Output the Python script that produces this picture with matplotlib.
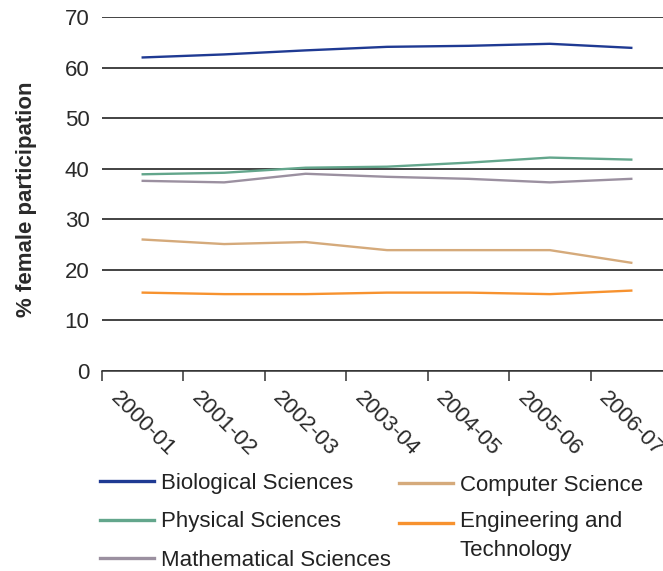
import numpy as np
import matplotlib.pyplot as plt
from matplotlib.legend_handler import HandlerLine2D
from matplotlib.lines import Line2D
from matplotlib.transforms import ScaledTranslation

plt.rcParams['font.family'] = ['Liberation Sans', 'DejaVu Sans']

years = ['2000-01', '2001-02', '2002-03', '2003-04', '2004-05', '2005-06', '2006-07']
biological = [62.0, 62.6, 63.4, 64.1, 64.3, 64.7, 63.9]
physical = [38.9, 39.2, 40.2, 40.4, 41.2, 42.2, 41.8]
mathematical = [37.6, 37.3, 39.0, 38.4, 38.0, 37.3, 38.0]
computer = [26.0, 25.1, 25.5, 23.9, 23.9, 23.9, 21.4]
engineering = [15.5, 15.2, 15.2, 15.5, 15.5, 15.2, 15.9]

col_bio = '#1f3a93'
col_phy = '#63a68c'
col_mat = '#9b90a0'
col_com = '#d5aa7b'
col_eng = '#f7922f'


class UpperLine(HandlerLine2D):
    # put the handle next to the first line of a two-line label
    def create_artists(self, legend, orig_handle, xdescent, ydescent,
                       width, height, fontsize, trans):
        arts = super().create_artists(legend, orig_handle, xdescent, ydescent,
                                      width, height, fontsize, trans)
        for a in arts:
            a.set_ydata(np.asarray(a.get_ydata()) + 0.62 * fontsize)
        return arts


fig = plt.figure(figsize=(6.63, 5.71), dpi=100)
ax = fig.add_axes([102 / 663, 1 - 371 / 571, 570 / 663, 354 / 571])

x = np.arange(len(years))
ax.plot(x, biological, color=col_bio, lw=1.7)
ax.plot(x, physical, color=col_phy, lw=1.7)
ax.plot(x, mathematical, color=col_mat, lw=1.7)
ax.plot(x, computer, color=col_com, lw=1.7)
ax.plot(x, engineering, color=col_eng, lw=1.7)

ax.set_xlim(-0.5, 6.5)
ax.set_ylim(0, 70)
ax.set_yticks(range(0, 71, 10))
ax.yaxis.grid(True, color='#222222', lw=1.2)
ax.set_axisbelow(True)
for s in ['top', 'right', 'left']:
    ax.spines[s].set_visible(False)
ax.spines['bottom'].set_color('#333333')
ax.spines['bottom'].set_linewidth(1.1)

ax.tick_params(axis='y', length=0, pad=9, labelsize=16, labelcolor='#2a2a2a')
ax.set_xticks(x)
ax.set_xticks(np.arange(-0.5, 7, 1), minor=True)
ax.tick_params(axis='x', which='major', length=0, pad=12, labelsize=16, labelcolor='#2a2a2a')
ax.tick_params(axis='x', which='minor', length=7, width=1.1, color='#333333', direction='out')
ax.set_xticklabels(years, rotation=-45, ha='left', va='top', rotation_mode='anchor')
offset = ScaledTranslation(-0.22, 0, fig.dpi_scale_trans)
for lab in ax.get_xticklabels():
    lab.set_transform(lab.get_transform() + offset)

fig.text(27 / 663, 1 - 199 / 571, '% female participation', rotation=90,
         fontsize=16, fontweight='bold', color='#2a2a2a', ha='center', va='center')

h_bio = Line2D([], [], color=col_bio, lw=2.4)
h_phy = Line2D([], [], color=col_phy, lw=2.4)
h_mat = Line2D([], [], color=col_mat, lw=2.4)
h_com = Line2D([], [], color=col_com, lw=2.4)
h_eng = Line2D([], [], color=col_eng, lw=2.4)

leg_kw = dict(loc='upper left', frameon=False, fontsize=16, borderpad=0,
              borderaxespad=0, handlelength=2.45, handletextpad=0.28,
              labelspacing=0.78, labelcolor='#222222')
fig.legend([h_bio, h_phy, h_mat],
           ['Biological Sciences', 'Physical Sciences', 'Mathematical Sciences'],
           bbox_to_anchor=(100 / 663, 1 - 473 / 571), **leg_kw)
leg2 = fig.legend([h_com, h_eng], ['Computer Science', 'Engineering and\nTechnology'],
                  bbox_to_anchor=(399 / 663, 1 - 475 / 571),
                  handler_map={h_eng: UpperLine()}, labelspacing=0.68,
                  **{k: v for k, v in leg_kw.items() if k != 'labelspacing'})
leg2.get_texts()[1].set_linespacing(1.5)

fig.savefig('out.png', dpi=100)
